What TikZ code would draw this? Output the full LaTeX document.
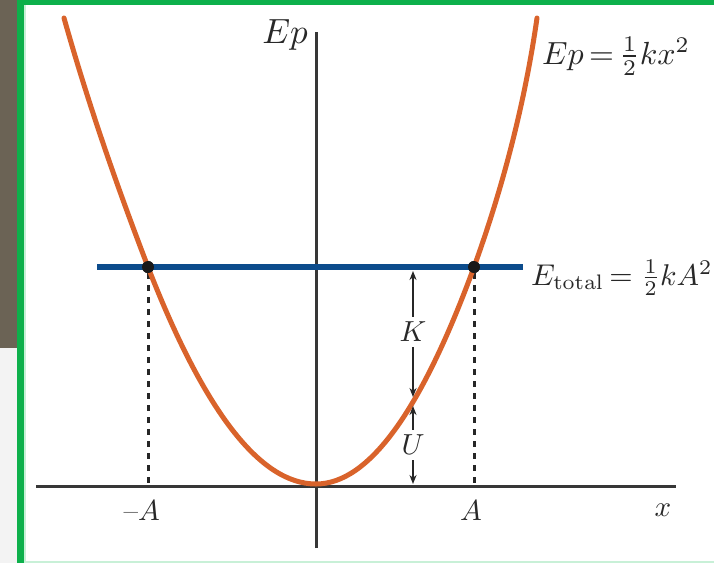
\documentclass[tikz,border=0pt]{standalone}
\usetikzlibrary{arrows.meta}
\definecolor{curveor}{RGB}{217,99,43}
\definecolor{lineblue}{RGB}{12,76,140}
\definecolor{axisgray}{RGB}{55,55,55}
\definecolor{bordergreen}{RGB}{13,176,75}
\definecolor{stripbrown}{RGB}{107,99,85}
\definecolor{stripgray}{RGB}{243,243,243}
\definecolor{palegreen}{RGB}{200,240,215}
\definecolor{txt}{RGB}{40,40,40}
\newcommand{\biglab}[2]{\scalebox{#1}{#2}}
\begin{document}
\begin{tikzpicture}[x=1pt,y=-1pt,
  lbl/.style={inner sep=0pt, text=txt},
  axisline/.style={draw=axisgray, line width=3pt},
  dropline/.style={draw=black!85, line width=3pt, dash pattern=on 6pt off 6pt},
  kuarrow/.style={draw=black!85, line width=1.6pt, -{Stealth[length=9pt,width=7pt]}},
  dot/.style={circle, fill=black!90, inner sep=0pt, minimum size=12pt}]
\useasboundingbox (0,0) rectangle (714,563);
% background and frame
\fill[white] (0,0) rectangle (714,563);
\fill[stripbrown] (0,0) rectangle (17,348);
\fill[stripgray] (0,348) rectangle (17,563);
\fill[bordergreen] (17,0) rectangle (24,563);
\fill[palegreen] (24,0) rectangle (26,563);
\fill[bordergreen] (17,0) rectangle (714,5);
\fill[palegreen] (24,561) rectangle (714,563);
% axes
\coordinate (xl) at (36,486);
\coordinate (xr) at (676,486);
\coordinate (yb) at (316,548);
\coordinate (yt) at (316,32);
\draw[axisline] (xl) -- (xr);
\draw[axisline] (yb) -- (yt);
% energy level
\coordinate (bl) at (97,267);
\coordinate (br) at (523,267);
% dots
\node[dot] (dl) at (148,267) {};
\node[dot] (dr) at (474,267) {};
\coordinate (fl) at (148,486);
\coordinate (fr) at (474,486);
\draw[dropline] (dl) -- (fl);
\draw[dropline] (dr) -- (fr);
% potential energy curve
\coordinate (ctl) at (64,18);
\coordinate (cv) at (316,484);
\coordinate (ctr) at (537,18);
\draw[curveor, line width=5pt, line cap=round]
  (ctl) .. controls (88,103) and (116.5,185) .. (dl.center)
        .. controls (204,411) and (260,484) .. (cv)
        .. controls (368.7,484) and (421.3,411) .. (dr.center)
        .. controls (503,187) and (525,102) .. (ctr);
\draw[lineblue, line width=6pt] (bl) -- (br);
\node[dot] at (dl) {};
\node[dot] at (dr) {};
% K and U
\node[lbl, inner sep=5pt] (K) at (413,332) {\biglab{2.9}{$K$}};
\node[lbl, inner sep=5pt] (U) at (413,445) {\biglab{2.9}{$U$}};
\coordinate (kt) at (413,271);
\coordinate (kb) at (413,397);
\coordinate (ut) at (413,406);
\coordinate (ub) at (413,484);
\draw[kuarrow] (K.north) -- (kt);
\draw[kuarrow] (K.south) -- (kb);
\draw[kuarrow] (U.north) -- (ut);
\draw[kuarrow] (U.south) -- (ub);
% labels
\node[lbl, anchor=base east] (eplab) at (308,43) {\biglab{3.5}{$Ep$}};
\node[lbl, anchor=base west] (epform) at (542,64) {\biglab{3.2}{$Ep\,{=}\,\frac{1}{2}kx^2$}};
\node[lbl, anchor=base west] (etot) at (531,285) {\biglab{3.0}{$E_{\mathrm{total}}\,{=}\;\frac{1}{2}kA^2$}};
\node[lbl, anchor=base east] (mA) at (160,520) {\biglab{2.9}{--$A$}};
\node[lbl, anchor=base] (pA) at (471,520) {\biglab{2.9}{$A$}};
\node[lbl, anchor=base] (xlab) at (663,516) {\biglab{2.9}{$x$}};
\end{tikzpicture}
\end{document}
